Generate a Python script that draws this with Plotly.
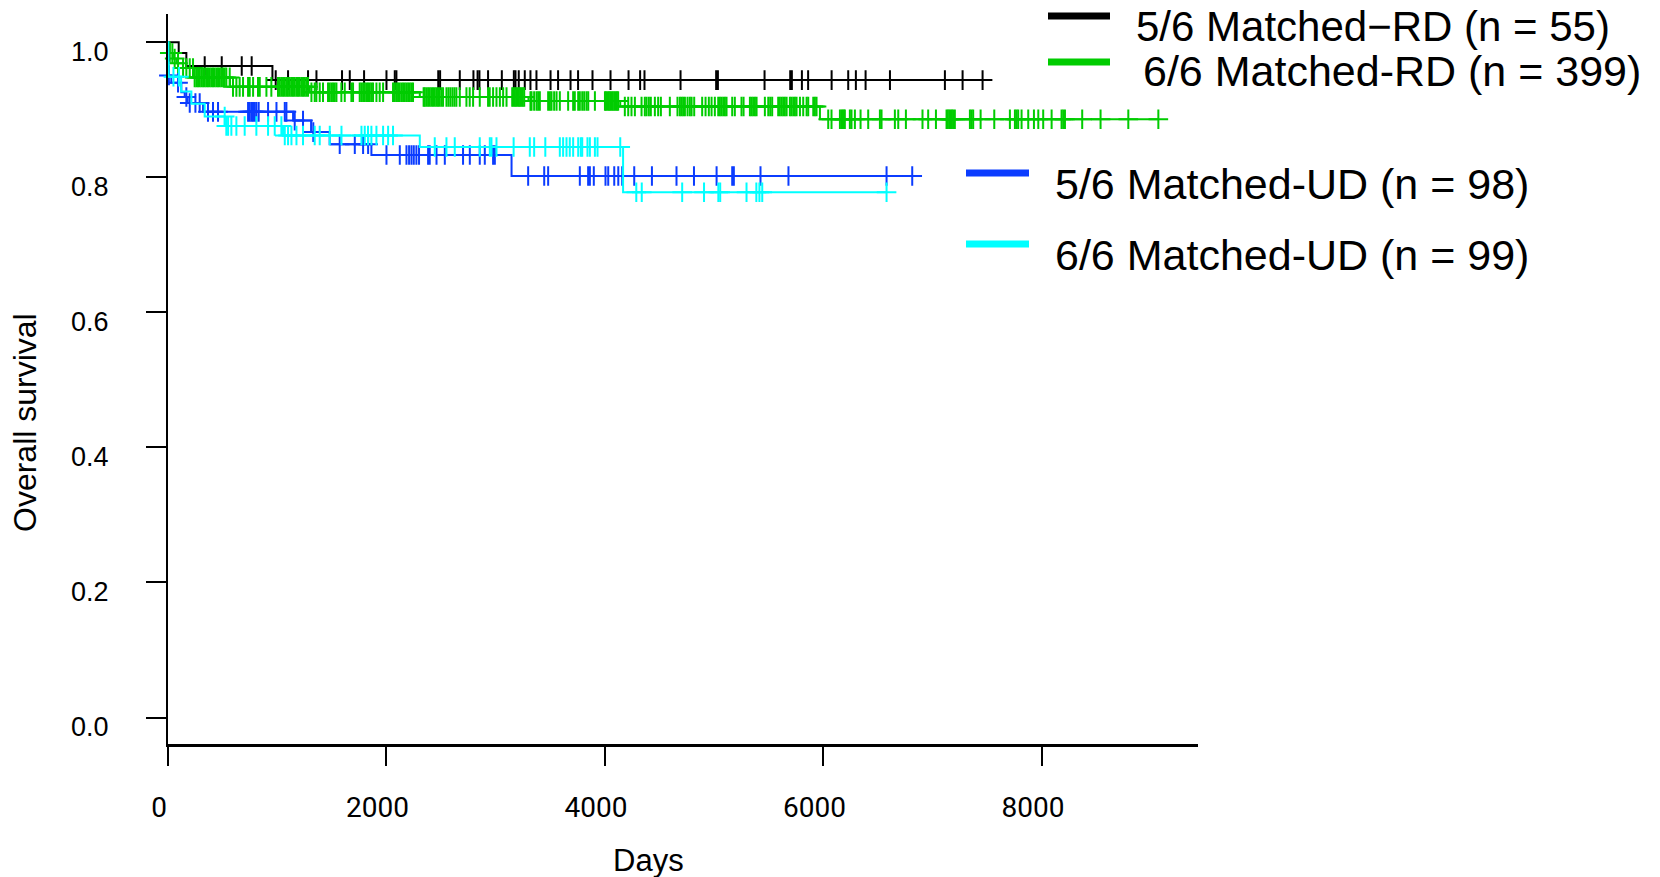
import numpy as np
import plotly.graph_objects as go

# ---------------- data ----------------
series_labels = ["5/6 Matched\u2212RD (n = 55)", "6/6 Matched-RD (n = 399)",
                 "5/6 Matched-UD (n = 98)", "6/6 Matched-UD (n = 99)"]
series_colors = ["#000000", "#00cc00", "#0b3cff", "#00ffff"]

# 5/6 Matched-RD
rd56_step_days = [0, 98, 168, 956]
rd56_step_surv = [1.0, 0.984, 0.965, 0.944]
rd56_end_day = 7457
rd56_censor_days = [336, 492, 675, 766, 986, 1099, 1282, 1359, 1593, 1664, 1795, 2000, 2076,
                    2091, 2474, 2491, 2671, 2796, 2834, 2851, 2930, 3056, 3166, 3181, 3211,
                    3266, 3318, 3373, 3502, 3571, 3685, 3754, 3886, 4051, 4216, 4322, 4362,
                    4692, 5018, 5034, 5461, 5696, 5711, 5803, 5860, 6075, 6227, 6297, 6386,
                    6609, 7112, 7274, 7457]

# 6/6 Matched-RD
rd66_step_days = [0, 15, 45, 77, 137, 240, 567, 1297, 2305, 3300, 4140, 5968]
rd66_step_surv = [1.0, 0.984, 0.976, 0.969, 0.962, 0.948, 0.934, 0.926, 0.919, 0.913, 0.905, 0.886]
rd66_end_day = 9066
rd66_censor_days = [16, 40, 61, 92, 138, 168, 199, 229, 244, 260, 275, 290, 305, 321, 336, 351,
                    366, 382, 397, 412, 427, 443, 458, 473, 488, 504, 519, 534, 565, 595, 626,
                    656, 687, 733, 748, 779, 824, 840, 901, 946, 1007, 1022, 1037, 1053, 1068,
                    1083, 1098, 1114, 1129, 1144, 1159, 1175, 1190, 1205, 1221, 1236, 1251,
                    1266, 1282, 1313, 1343, 1358, 1389, 1419, 1465, 1480, 1496, 1511, 1526,
                    1542, 1587, 1618, 1679, 1694, 1755, 1770, 1786, 1801, 1816, 1831, 1847,
                    1862, 1877, 1908, 1938, 1969, 2060, 2076, 2091, 2106, 2121, 2137, 2152,
                    2167, 2182, 2198, 2213, 2228, 2243, 2340, 2350, 2365, 2381, 2396, 2411,
                    2426, 2442, 2457, 2472, 2487, 2503, 2518, 2549, 2567, 2585, 2604, 2622,
                    2640, 2671, 2732, 2762, 2793, 2854, 2930, 2945, 2976, 3007, 3038, 3068,
                    3099, 3151, 3163, 3175, 3187, 3200, 3212, 3224, 3236, 3248, 3261, 3318,
                    3328, 3352, 3374, 3389, 3404, 3480, 3496, 3511, 3535, 3557, 3587, 3663,
                    3709, 3724, 3755, 3770, 3792, 3810, 3831, 3847, 3908, 4000, 4011, 4024,
                    4036, 4048, 4060, 4072, 4085, 4097, 4109, 4121, 4182, 4213, 4243, 4274,
                    4335, 4365, 4381, 4402, 4420, 4457, 4487, 4512, 4594, 4664, 4686, 4701,
                    4716, 4732, 4756, 4777, 4793, 4817, 4890, 4921, 4951, 4976, 5006, 5037,
                    5052, 5067, 5083, 5098, 5113, 5165, 5189, 5250, 5269, 5327, 5342, 5357,
                    5373, 5388, 5464, 5495, 5513, 5531, 5586, 5601, 5617, 5632, 5647, 5663,
                    5693, 5708, 5724, 5739, 5754, 5785, 5815, 5846, 5861, 5907, 5922, 5937,
                    6044, 6074, 6151, 6166, 6175, 6187, 6196, 6242, 6257, 6288, 6340, 6410,
                    6517, 6532, 6654, 6685, 6755, 6907, 6959, 7030, 7127, 7139, 7152, 7164,
                    7176, 7188, 7203, 7341, 7356, 7371, 7439, 7564, 7707, 7753, 7768, 7783,
                    7814, 7875, 7927, 7967, 8012, 8089, 8180, 8195, 8211, 8369, 8537, 8791,
                    9066]

# 5/6 Matched-UD
ud56_step_days = [0, 2, 4, 6, 30, 122, 153, 180, 321, 1145, 1310, 1480, 1862, 3145]
ud56_step_surv = [1.0, 0.98, 0.965, 0.951, 0.940, 0.926, 0.919, 0.910, 0.897, 0.884, 0.867,
                  0.849, 0.833, 0.802]
ud56_end_day = 6813
ud56_censor_days = [8, 92, 168, 199, 251, 290, 366, 412, 458, 733, 748, 764, 778, 794, 809, 830,
                    916, 993, 1069, 1084, 1160, 1236, 1330, 1572, 1710, 1786, 1832, 2000, 2122,
                    2183, 2207, 2229, 2250, 2274, 2298, 2381, 2396, 2458, 2534, 2701, 2763,
                    2854, 2900, 2976, 2992, 3297, 3444, 3480, 3770, 3846, 3862, 3898, 4005,
                    4030, 4085, 4122, 4158, 4268, 4430, 4655, 4815, 5022, 5165, 5180, 5424,
                    5680, 6578, 6813]

# 6/6 Matched-UD
ud66_step_days = [0, 2, 6, 120, 214, 336, 520, 1053, 2305, 4166]
ud66_step_surv = [1.0, 0.97, 0.949, 0.927, 0.909, 0.890, 0.876, 0.862, 0.845, 0.778]
ud66_end_day = 6578
ud66_censor_days = [50, 100, 519, 534, 550, 580, 626, 702, 809, 916, 977, 1038, 1069, 1099, 1130,
                    1176, 1236, 1343, 1389, 1481, 1588, 1771, 1801, 1831, 1862, 1908, 1969,
                    2015, 2060, 2442, 2549, 2625, 2854, 2946, 2961, 3007, 3164, 3312, 3352,
                    3454, 3587, 3617, 3648, 3678, 3709, 3755, 3779, 3792, 3840, 3862, 3908,
                    3932, 4140, 4287, 4337, 4707, 4907, 5038, 5055, 5296, 5386, 5414, 5440,
                    6578]

x_tick_vals = [0, 2000, 4000, 6000, 8000]
x_tick_text = ["0", "2000", "4000", "6000", "8000"]
y_tick_vals = [0.0, 0.2, 0.4, 0.6, 0.8, 1.0]
y_tick_text = ["0.0", "0.2", "0.4", "0.6", "0.8", "1.0"]
x_title = "Days"
y_title = "Overall survival"

# ---------------- figure ----------------
W, H = 1660, 877
L, R, T, B = 168, 1198, 14, 744   # plot area in pixels


def px_x(p):
    return (p - L) / (R - L)


def px_y(p):
    return (B - p) / (B - T)


def level_at(days, step_days, step_surv):
    idx = np.searchsorted(np.array(step_days), np.array(days), side="right") - 1
    return np.array(step_surv)[idx]


series = [
    (rd56_step_days, rd56_step_surv, rd56_end_day, rd56_censor_days),
    (rd66_step_days, rd66_step_surv, rd66_end_day, rd66_censor_days),
    (ud56_step_days, ud56_step_surv, ud56_end_day, ud56_censor_days),
    (ud66_step_days, ud66_step_surv, ud66_end_day, ud66_censor_days),
]

fig = go.Figure()
for (sd, ss, end, cens), col, lab in zip(series, series_colors, series_labels):
    fig.add_trace(go.Scatter(
        x=list(sd) + [end], y=list(ss) + [ss[-1]], mode="lines",
        line=dict(color=col, width=2, shape="hv"), name=lab,
        showlegend=False, cliponaxis=False, hoverinfo="skip"))
    fig.add_trace(go.Scatter(
        x=cens, y=level_at(cens, sd, ss), mode="markers",
        marker=dict(symbol="cross-thin", size=14, color=col,
                    line=dict(color=col, width=2)),
        showlegend=False, cliponaxis=False, hoverinfo="skip"))

# legend (hand placed like the reference)
legend_pos = [  # line x0, x1, line y, text x, text y, font size
    (1048, 1110, 16, 1134, 27, 42),
    (1048, 1110, 62, 1141, 71, 43),
    (966, 1029, 173, 1053, 184, 43),
    (966, 1029, 244, 1053, 255, 43),
]
shapes = []
annotations = []
for (x0, x1, ly, tx, ty, fs), col, lab in zip(legend_pos, series_colors, series_labels):
    shapes.append(dict(type="line", xref="paper", yref="paper",
                       x0=px_x(x0), x1=px_x(x1), y0=px_y(ly), y1=px_y(ly),
                       line=dict(color=col, width=7)))
    annotations.append(dict(text=lab, xref="paper", yref="paper", x=px_x(tx), y=px_y(ty),
                            xanchor="left", yanchor="middle", showarrow=False,
                            font=dict(family="Liberation Sans, Arial", size=fs, color="black")))

annotations.append(dict(text=x_title, xref="paper", yref="paper", x=px_x(648), y=px_y(860),
                        xanchor="center", yanchor="middle", showarrow=False,
                        font=dict(family="Liberation Sans, Arial", size=31, color="black")))
annotations.append(dict(text=y_title, xref="paper", yref="paper", x=px_x(25), y=px_y(423),
                        xanchor="center", yanchor="middle", showarrow=False, textangle=-90,
                        font=dict(family="Liberation Sans, Arial", size=32, color="black")))

fig.update_layout(
    width=W, height=H,
    margin=dict(l=L, r=W - R, t=T, b=H - B, pad=0),
    paper_bgcolor="white", plot_bgcolor="white",
    shapes=shapes, annotations=annotations,
    showlegend=False,
)
fig.update_xaxes(
    range=[0, 9429], tickvals=x_tick_vals, ticktext=x_tick_text,
    showline=True, linecolor="black", linewidth=2.5,
    ticks="outside", ticklen=19, tickwidth=1.5, tickcolor="black",
    showgrid=False, zeroline=False, automargin=False,
    tickfont=dict(family="Roboto", size=28, color="black"),
    ticklabelstandoff=18, ticklabelshift=-9,
)
fig.update_yaxes(
    range=[-0.0392, 1.0419], tickvals=y_tick_vals, ticktext=y_tick_text,
    showline=True, linecolor="black", linewidth=2,
    ticks="outside", ticklen=20, tickwidth=1.8, tickcolor="black",
    showgrid=False, zeroline=False, automargin=False,
    tickfont=dict(family="Liberation Sans, Arial", size=27, color="black"),
    ticklabelstandoff=32, ticklabelshift=9,
)

fig.write_html("out.html")
